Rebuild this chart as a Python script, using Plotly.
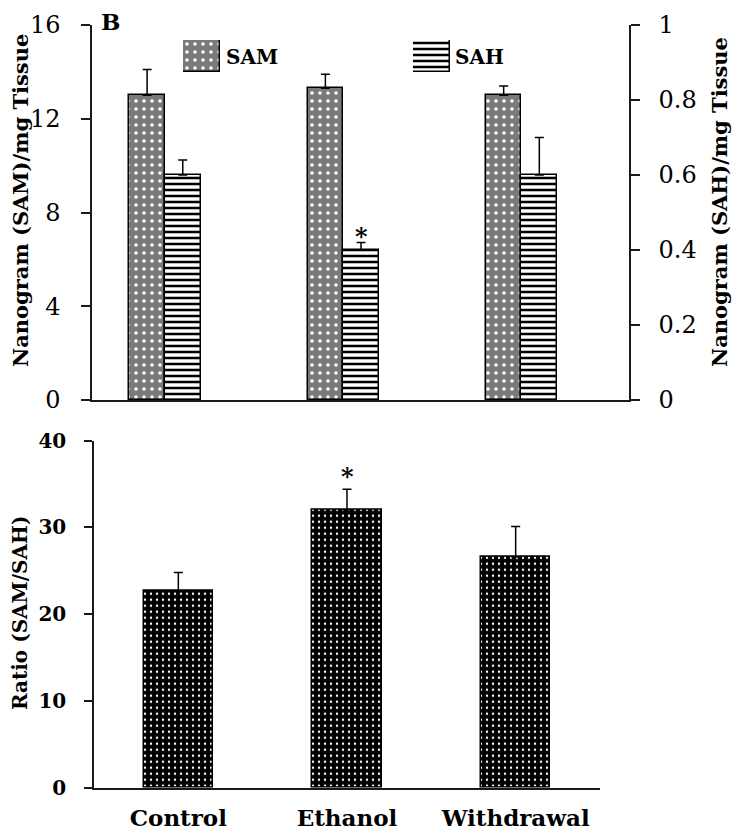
import plotly.graph_objects as go

# ---------------- data ----------------
categories = ["Control", "Ethanol", "Withdrawal"]
sam_values = [13.0, 13.3, 13.0]
sam_errors = [1.1, 0.6, 0.4]
sah_values = [0.60, 0.40, 0.60]
sah_errors = [0.04, 0.02, 0.10]
ratio_values = [22.7, 32.0, 26.6]
ratio_errors = [2.1, 2.4, 3.5]
sam_ticks = [0, 4, 8, 12, 16]
sah_ticks = [0, 0.2, 0.4, 0.6, 0.8, 1]
ratio_ticks = [0, 10, 20, 30, 40]
series_names = ["SAM", "SAH"]
significant_sah = [False, True, False]
significant_ratio = [False, True, False]

# ---------------- layout helpers ----------------
# the page body has an 8px margin, so the figure is 8px smaller than the window
OFF = 8
W, H = 740 - OFF, 834 - OFF
def fx(px):
    return (px - OFF) / W
def fy(py):
    return 1 - (py - OFF) / H

SERIF = "DejaVu Serif"
AX = "#1a1a1a"

sam_marker = dict(color="#7a7a7a", line=dict(color="black", width=1.5),
                  pattern=dict(shape=".", bgcolor="#7a7a7a", fgcolor="white",
                               size=8, solidity=0.15, fillmode="replace"))
sah_marker = dict(color="white", line=dict(color="black", width=1.5),
                  pattern=dict(shape="-", bgcolor="white", fgcolor="black",
                               size=6, solidity=0.42, fillmode="replace"))
ratio_marker = dict(color="black", line=dict(color="black", width=1.5),
                    pattern=dict(shape=".", bgcolor="black", fgcolor="white",
                                 size=6, solidity=0.12, fillmode="replace"))

def err(vals):
    return dict(type="data", array=vals, arrayminus=[0] * len(vals), symmetric=False,
                color="black", thickness=1.5, width=4.5)

fig = go.Figure()
fig.add_trace(go.Bar(x=categories, y=sam_values, xaxis="x", yaxis="y", width=0.2, offset=-0.2,
                     marker=sam_marker, error_y=err(sam_errors), name=series_names[0], showlegend=False))
fig.add_trace(go.Bar(x=categories, y=sah_values, xaxis="x", yaxis="y2", width=0.2, offset=0.0,
                     marker=sah_marker, error_y=err(sah_errors), name=series_names[1], showlegend=False))
fig.add_trace(go.Bar(x=categories, y=ratio_values, xaxis="x2", yaxis="y3", width=0.41,
                     marker=ratio_marker, error_y=err(ratio_errors), name="Ratio", showlegend=False))
# legend patches
fig.add_trace(go.Bar(x=[0], y=[1], xaxis="x3", yaxis="y4", width=1, marker=sam_marker,
                     showlegend=False, hoverinfo="skip"))
fig.add_trace(go.Bar(x=[0], y=[1], xaxis="x4", yaxis="y5", width=1, marker=sah_marker,
                     showlegend=False, hoverinfo="skip"))

tick_font = dict(family=SERIF, size=24, color="black")
bold_tick_font = dict(family=SERIF, size=20, color="black", weight="bold")

fig.update_layout(
    width=W, height=H, margin=dict(l=0, r=0, t=0, b=0, autoexpand=False),
    paper_bgcolor="white", plot_bgcolor="rgba(0,0,0,0)",
    bargap=0, barmode="overlay",
    xaxis=dict(domain=[fx(92), fx(629)], range=[-0.409, 2.603], type="category",
               showticklabels=False, ticks="", showline=True, linecolor=AX, linewidth=1.5,
               showgrid=False, zeroline=False, anchor="y", automargin=False),
    yaxis=dict(domain=[fy(400), fy(25)], range=[0, 16], tickvals=sam_ticks, ticks="outside",
               ticklen=9, tickwidth=1.5, tickcolor=AX, showline=True, linecolor=AX, linewidth=1.5,
               showgrid=False, zeroline=False, tickfont=tick_font, ticklabelstandoff=16, anchor="x",
               automargin=False),
    yaxis2=dict(overlaying="y", side="right", range=[0, 1], tickvals=sah_ticks,
                ticktext=["0", "0.2", "0.4", "0.6", "0.8", "1"], ticks="outside",
                ticklen=9, tickwidth=1.5, tickcolor=AX, showline=True, linecolor=AX, linewidth=1.5,
                showgrid=False, zeroline=False, tickfont=tick_font, ticklabelstandoff=14, anchor="x",
                automargin=False),
    xaxis2=dict(domain=[fx(94), fx(600)], range=[-0.5, 2.5], type="category", ticks="",
                showline=True, linecolor=AX, linewidth=1.5, showgrid=False, zeroline=False,
                tickfont=dict(family=SERIF, size=23, color="black", weight="bold"),
                ticklabelstandoff=9, anchor="y3", automargin=False),
    yaxis3=dict(domain=[fy(787.7), fy(440.7)], range=[0, 40], tickvals=ratio_ticks, ticks="outside",
                ticklen=8, tickwidth=1.5, tickcolor=AX, showline=True, linecolor=AX, linewidth=1.5,
                showgrid=False, zeroline=False, tickfont=bold_tick_font, ticklabelstandoff=14,
                anchor="x2", automargin=False),
    xaxis3=dict(domain=[fx(183), fx(220)], range=[-0.5, 0.5], visible=False, anchor="y4", automargin=False),
    yaxis4=dict(domain=[fy(72), fy(40)], range=[0, 1], visible=False, anchor="x3", automargin=False),
    xaxis4=dict(domain=[fx(413), fx(450)], range=[-0.5, 0.5], visible=False, anchor="y5", automargin=False),
    yaxis5=dict(domain=[fy(72), fy(40)], range=[0, 1], visible=False, anchor="x4", automargin=False),
)

title_font = dict(family=SERIF, size=21, color="black", weight="bold")
def pann(text, px, py, font, angle=0, xanchor="center"):
    return dict(text=text, textangle=angle, x=fx(px), y=fy(py), xref="paper", yref="paper",
                xanchor=xanchor, yanchor="middle", showarrow=False, font=font)

ann = []
ann.append(pann("Nanogram (SAM)/mg Tissue", 20, 201, title_font, -90))
ann.append(pann("Nanogram (SAH)/mg Tissue", 719, 202, title_font, -90))
ann.append(pann("Ratio (SAM/SAH)", 20, 613, dict(family=SERIF, size=20, color="black", weight="bold"), -90))
ann.append(pann("B", 111, 21, dict(family=SERIF, size=23, color="black", weight="bold")))
ann.append(pann(series_names[0], 224, 57, dict(family=SERIF, size=20, color="black", weight="bold"), xanchor="left"))
ann.append(pann(series_names[1], 453, 57, dict(family=SERIF, size=20, color="black", weight="bold"), xanchor="left"))
for i, sig in enumerate(significant_sah):
    if sig:
        ann.append(dict(text="*", x=i + 0.1, y=sah_values[i] + sah_errors[i], xref="x", yref="y2",
                        xanchor="center", yanchor="bottom", yshift=-10, showarrow=False,
                        font=dict(family=SERIF, size=24, color="black", weight="bold")))
for i, sig in enumerate(significant_ratio):
    if sig:
        ann.append(dict(text="*", x=i, y=ratio_values[i] + ratio_errors[i], xref="x2", yref="y3",
                        xanchor="center", yanchor="bottom", yshift=-4, showarrow=False,
                        font=dict(family=SERIF, size=24, color="black", weight="bold")))
fig.update_layout(annotations=ann)

fig.write_html("out.html")
